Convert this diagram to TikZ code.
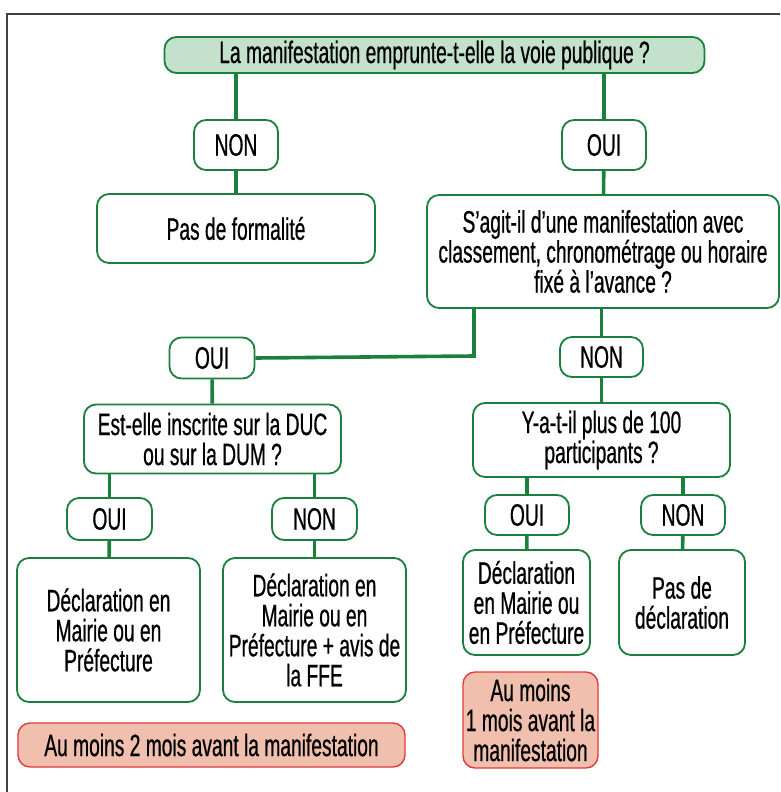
\documentclass[tikz,border=0pt]{standalone}
\usepackage{fontspec}
\setmainfont{Liberation Sans}[FakeStretch=0.62, FakeBold=0.6]
\usepackage{tikz}

\definecolor{vert}{HTML}{1B7F3E}
\definecolor{vertclair}{HTML}{C4E2CB}
\definecolor{rouge}{HTML}{E03A3E}
\definecolor{saumon}{HTML}{F0BFAD}

\tikzset{
  boite/.style={draw=vert, line width=1.8pt, rounded corners=12pt, fill=white,
    align=center, inner sep=0pt, font=\fontsize{31}{30}\selectfont},
  titre/.style={boite, fill=vertclair},
  delai/.style={boite, draw=rouge, fill=saumon, line width=1.4pt},
  lien/.style={draw=vert, line width=3.6pt}
}

\begin{document}
\begin{tikzpicture}[x=1pt, y=-1pt]

\useasboundingbox (0,0) rectangle (780,792);
\draw[black!75, line width=1.5pt] (7,792) -- (7,14) -- (780,14);

\node[titre, minimum width=540, minimum height=36] (top) at (434.5,55)
  {La manifestation emprunte-t-elle la voie publique\,?};

\node[boite, minimum width=84, minimum height=50] (non1) at (236,145) {NON};
\node[boite, minimum width=278, minimum height=69] (pas) at (236,228.5) {Pas de formalité};

\node[boite, minimum width=84, minimum height=50] (oui1) at (604,145) {OUI};
\node[boite, minimum width=352, minimum height=113] (sagit) at (603,251.5)
  {S’agit-il d’une manifestation avec\\classement, chronométrage ou horaire\\fixé à l’avance\,?};

\node[boite, minimum width=85, minimum height=41] (oui2) at (212,358) {OUI};
\node[boite, minimum width=83, minimum height=40] (non2) at (601.5,357) {NON};

\node[boite, minimum width=257, minimum height=69] (est) at (212.5,439)
  {Est-elle inscrite sur la DUC\\ou sur la DUM\,?};
\node[boite, minimum width=257, minimum height=74] (yat) at (601.5,440)
  {Y-a-t-il plus de 100\\participants\,?};

\node[boite, minimum width=85, minimum height=42] (oui3) at (109.5,519) {OUI};
\node[boite, minimum width=85, minimum height=42] (non3) at (314.5,519) {NON};
\node[boite, minimum width=84, minimum height=40] (oui4) at (527,515) {OUI};
\node[boite, minimum width=84, minimum height=40] (non4) at (683,515) {NON};

\node[boite, minimum width=183, minimum height=144] (decl1) at (108.5,630)
  {Déclaration en\\Mairie ou en\\Préfecture};
\node[boite, minimum width=183, minimum height=144] (decl2) at (314.5,630)
  {Déclaration en\\Mairie ou en\\Préfecture + avis de\\la FFE};
\node[boite, minimum width=127, minimum height=105] (decl3) at (526.5,602.5)
  {Déclaration\\en Mairie ou\\en Préfecture};
\node[boite, minimum width=126, minimum height=105] (pasdecl) at (682,602.5)
  {Pas de\\déclaration};

\node[delai, minimum width=387, minimum height=44] (deux) at (211.5,745)
  {Au moins 2 mois avant la manifestation};
\node[delai, minimum width=135, minimum height=96] (un) at (530.5,720)
  {Au moins\\1 mois avant la\\manifestation};

% liaisons
\coordinate (coude) at (474,356);
\draw[lien] (non1.north |- top.south) -- (non1.north);
\draw[lien] (oui1.north |- top.south) -- (oui1.north);
\draw[lien] (non1) -- (pas);
\draw[lien] (oui1) -- (sagit);
\draw[lien] (oui2.east) -- (coude) -- (coude |- sagit.south);
\draw[lien] (non2.north |- sagit.south) -- (non2.north);
\draw[lien] (oui2) -- (est);
\draw[lien] (non2) -- (yat);
\draw[lien] (oui3.north |- est.south) -- (oui3.north);
\draw[lien] (non3.north |- est.south) -- (non3.north);
\draw[lien] (oui4.north |- yat.south) -- (oui4.north);
\draw[lien] (non4.north |- yat.south) -- (non4.north);
\draw[lien] (oui3) -- (decl1);
\draw[lien] (non3) -- (decl2);
\draw[lien] (oui4) -- (decl3);
\draw[lien] (non4) -- (pasdecl);

\end{tikzpicture}
\end{document}
